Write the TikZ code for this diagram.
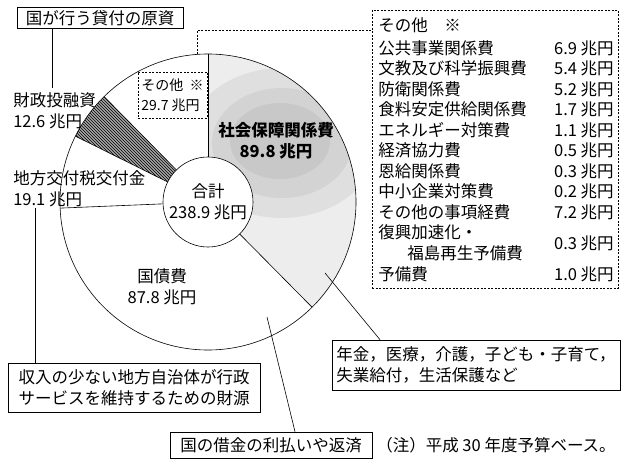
\documentclass[tikz,border=0pt]{standalone}
\usepackage{fontspec}
\setmainfont{Noto Sans CJK JP}
\usetikzlibrary{patterns}
\newcommand\lblfont{\fontsize{16.5}{21}\selectfont}

\begin{document}
\begin{tikzpicture}[x=1pt, y=1pt, line width=.6pt, font=\lblfont,
    lbl/.style={inner sep=0pt, align=left},
    note/.style={draw, inner sep=3pt, align=left},
    dotline/.style={dash pattern=on 2pt off 1.5pt}]
  \useasboundingbox (0,0) rectangle (623,461);

  % pie
  \coordinate (O) at (208,259);
  \begin{scope}
    \clip (O) -- ++(90:148) arc (90:-45.32:148) -- cycle;
    \fill[gray!14] (O) circle (148);
    \fill[gray, opacity=.12] (282,318) ellipse (95 and 75);
    \fill[gray, opacity=.12] (282,318) ellipse (70 and 55);
    \fill[gray, opacity=.12] (280,320) ellipse (50 and 38);
  \end{scope}
  \fill[gray!70, postaction={pattern=north west lines}]
    (O) -- ++(153.59:148) arc (153.59:134.60:148) -- cycle;
  \draw (O) circle (148);
  \foreach \a in {90,-45.32,182.37,153.59,134.60}
    \draw (O) -- ++(\a:148);
  \node[circle, draw, fill=white, minimum size=90, inner sep=0pt, align=center] (total) at (O) {合計\\238.9 兆円};

  \node[lbl, align=center, font=\lblfont\bfseries] (shakai) at (276,320) {社会保障関係費\\89.8 兆円};
  \node[lbl, align=center] (kokusai) at (162,174) {国債費\\87.8 兆円};
  \node[lbl, anchor=west] (zaito) at (13,350) {財政投融資\\12.6 兆円};
  \node[lbl, anchor=west] (chiho) at (13,272) {地方交付税交付金\\19.1 兆円};
  \node[draw, dotline, inner sep=3pt, align=left, minimum width=69, minimum height=46,
    font=\fontsize{14}{20}\selectfont] (sonota) at (172.5,366) {その他\ \ ※\\29.7 兆円};

  % list of others
  \node[draw, dotline, minimum width=246, minimum height=278, anchor=north west] (listbox) at (372,451) {};
  \path (O) ++(94:148) coordinate (pietop);
  \coordinate (listjoin) at (372,431);
  \draw[dotline] (pietop) |- (listjoin);
  \node[lbl, anchor=west] (head) at (378,436) {その他　※};
  \foreach \name/\amt [count=\i from 0] in {公共事業関係費/6.9, 文教及び科学振興費/5.4,
      防衛関係費/5.2, 食料安定供給関係費/1.7, エネルギー対策費/1.1, 経済協力費/0.5,
      恩給関係費/0.3, 中小企業対策費/0.2, その他の事項経費/7.2} {
    \node[lbl, anchor=west] (item\i) at (378,413-20.5*\i) {\name};
    \node[lbl, anchor=east] (amt\i) at (614,413-20.5*\i) {\amt\ 兆円};
  }
  \node[lbl, anchor=west] (fukko) at (378,228.5) {復興加速化・};
  \node[lbl, anchor=west] (fukushima) at (407,208) {福島再生予備費};
  \node[lbl, anchor=east] (fukkoamt) at (614,218) {0.3 兆円};
  \node[lbl, anchor=west] (yobi) at (378,187) {予備費};
  \node[lbl, anchor=east] (yobiamt) at (614,187) {1.0 兆円};

  % notes
  \node[note, minimum width=166, minimum height=21] (kashitsuke) at (100,443) {国が行う貸付の原資};
  \node[note, minimum width=252, minimum height=49] (zaigen) at (134,73.5) {収入の少ない地方自治体が行政\\サービスを維持するための財源};
  \node[note, minimum width=288, minimum height=50] (nenkin) at (476,96) {年金，医療，介護，子ども・子育て，\\失業給付，生活保護など};
  \node[note, minimum width=202, minimum height=26] (shakkin) at (271,16) {国の借金の利払いや返済};
  \node[lbl, anchor=west] (chu) at (376,16) {（注）平成 30 年度予算ベース。};

  \coordinate (zaitoPt) at (52,373);
  \draw (zaitoPt) -- (zaitoPt |- kashitsuke.south);
  \coordinate (chihoPt) at (35,253);
  \draw (chihoPt) -- (chihoPt |- zaigen.north);
  \coordinate (kokusaiPt) at (267,144);
  \draw (kokusaiPt) -- (shakkin.north -| 295,0);
  \coordinate (shakaiPt) at (325,188);
  \draw (shakaiPt) -- (nenkin.north -| 380,0);
\end{tikzpicture}
\end{document}
